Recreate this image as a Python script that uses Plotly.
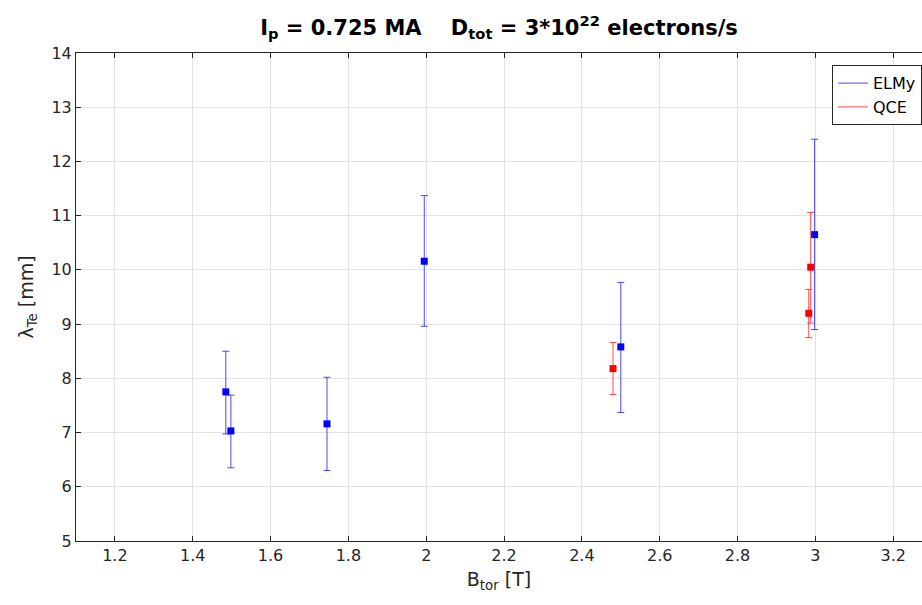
import plotly.graph_objects as go

# ELMy data
elmy_x = [1.485, 1.498, 1.745, 1.995, 2.50, 2.998]
elmy_y = [7.75, 7.03, 7.16, 10.16, 8.58, 10.65]
elmy_hi = [8.50, 7.69, 8.02, 11.37, 9.77, 12.41]
elmy_lo = [6.975, 6.35, 6.30, 8.96, 7.37, 8.90]

# QCE data
qce_x = [2.48, 2.988, 2.983]
qce_y = [8.18, 10.05, 9.20]
qce_hi = [8.66, 11.06, 9.64]
qce_lo = [7.70, 9.02, 8.75]

x_ticks = [1.2, 1.4, 1.6, 1.8, 2.0, 2.2, 2.4, 2.6, 2.8, 3.0, 3.2]
x_tick_labels = ["1.2", "1.4", "1.6", "1.8", "2", "2.2", "2.4", "2.6", "2.8", "3", "3.2"]
y_ticks = [5, 6, 7, 8, 9, 10, 11, 12, 13, 14]

BLUE = "rgb(0,0,255)"
RED = "rgb(255,0,0)"
EBLUE = "rgba(40,40,255,0.85)"
ERED = "rgba(255,40,40,0.85)"

fig = go.Figure()

def add_series(xs, ys, hi, lo, color, ecolor, name):
    fig.add_trace(go.Scatter(
        x=xs, y=ys, mode="markers", name=name, showlegend=False,
        marker=dict(symbol="square", size=7, color=color, line=dict(width=0)),
        error_y=dict(type="data", symmetric=False,
                     array=[h - y for h, y in zip(hi, ys)],
                     arrayminus=[y - l for l, y in zip(lo, ys)],
                     color=ecolor, thickness=1, width=3.5),
    ))
    fig.add_trace(go.Scatter(
        x=[None], y=[None], mode="lines", name=name,
        line=dict(color=ecolor, width=1),
    ))

add_series(elmy_x, elmy_y, elmy_hi, elmy_lo, BLUE, EBLUE, "ELMy")
add_series(qce_x, qce_y, qce_hi, qce_lo, RED, ERED, "QCE")

axis_color = "#262626"
grid_color = "#e3e3e3"
tick_font = dict(family="DejaVu Sans", size=16, color=axis_color)

fig.update_layout(
    width=922, height=605,
    margin=dict(l=76, r=0, t=53, b=64),
    paper_bgcolor="white", plot_bgcolor="white",
    title=dict(
        text="<b>I<sub>p</sub> = 0.725 MA    D<sub>tot</sub> = 3*10<sup>22</sup> electrons/s</b>",
        x=(76 + 922) / 2 / 922, xanchor="center", y=0.955, yanchor="middle",
        font=dict(family="DejaVu Sans", size=21, color="black"),
    ),
    xaxis=dict(
        range=[1.1, 3.274], tickvals=x_ticks, ticktext=x_tick_labels,
        showgrid=True, gridcolor=grid_color, gridwidth=1,
        showline=True, linecolor=axis_color, linewidth=1, mirror="ticks",
        ticks="inside", ticklen=5, tickcolor=axis_color, tickfont=tick_font,
        zeroline=False,
        title=dict(text="B<sub>tor</sub> [T]", standoff=8,
                   font=dict(family="DejaVu Sans", size=19, color=axis_color)),
    ),
    yaxis=dict(
        range=[5, 14], tickvals=y_ticks,
        showgrid=True, gridcolor=grid_color, gridwidth=1,
        showline=True, linecolor=axis_color, linewidth=1, mirror=False,
        ticks="inside", ticklen=5, tickcolor=axis_color, tickfont=tick_font,
        zeroline=False,
        title=dict(text="λ<sub>Te</sub> [mm]", standoff=12,
                   font=dict(family="DejaVu Sans", size=19, color=axis_color)),
    ),
    legend=dict(
        x=1.0, xanchor="right", y=0.975, yanchor="top",
        bgcolor="white", bordercolor=axis_color, borderwidth=1,
        font=dict(family="DejaVu Sans", size=16, color="black"),
        tracegroupgap=0, itemwidth=30,
    ),
)

fig.write_html("out.html")
